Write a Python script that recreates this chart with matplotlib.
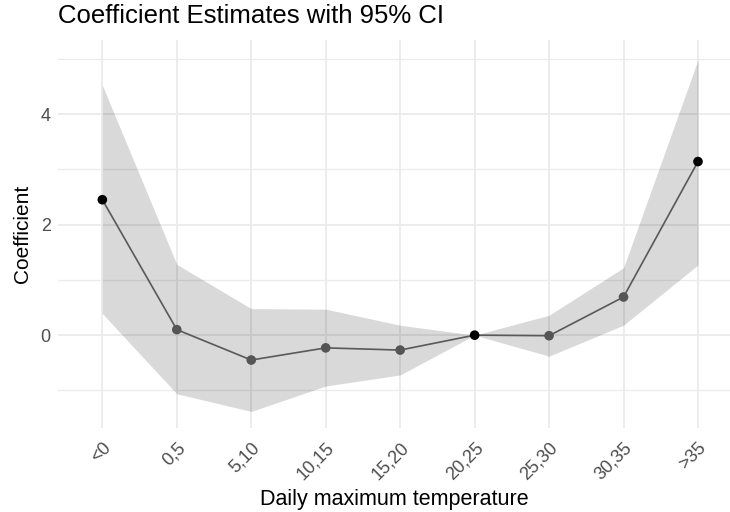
import numpy as np
import matplotlib
matplotlib.use("Agg")
import matplotlib.pyplot as plt

categories = ["<0", "0,5", "5,10", "10,15", "15,20", "20,25", "25,30", "30,35", ">35"]
coef = [2.45, 0.10, -0.45, -0.23, -0.27, 0.0, -0.01, 0.69, 3.14]
ci_low = [0.39, -1.06, -1.38, -0.92, -0.72, 0.0, -0.38, 0.18, 1.27]
ci_high = [4.52, 1.28, 0.48, 0.47, 0.18, 0.0, 0.36, 1.22, 4.98]
point_colors = ["black", "#555555", "#555555", "#555555", "#555555",
                "black", "#555555", "#555555", "black"]

plt.rcParams['font.family'] = ['Liberation Sans', 'DejaVu Sans']

fig = plt.figure(figsize=(7.3, 5.12), dpi=100)
ax = fig.add_axes([0.079, 0.164, 0.921, 0.758])

x = np.arange(len(categories))
ax.fill_between(x, ci_low, ci_high, color="black", alpha=0.15, linewidth=0, zorder=2)
ax.plot(x, coef, color="#595959", linewidth=1.2, zorder=3)
ax.scatter(x, coef, c=point_colors, s=48, zorder=4, linewidths=0)

ax.set_xlim(-0.6, 8.43)
ax.set_ylim(-1.68, 5.34)
ax.set_xticks(x)
ax.set_xticklabels(categories, rotation=45, ha="right", va="top",
                   rotation_mode="anchor", color="#4D4D4D", fontsize=13)
ax.set_yticks([0, 2, 4])
ax.set_yticks([-1, 1, 3, 5], minor=True)
ax.tick_params(axis="y", labelsize=13, labelcolor="#4D4D4D", pad=5)
ax.tick_params(axis="x", pad=8)
ax.tick_params(length=0, which="both")

ax.grid(True, which="major", color="#EBEBEB", linewidth=1.3, zorder=0)
ax.grid(True, which="minor", axis="y", color="#EBEBEB", linewidth=0.9, zorder=0)
ax.set_axisbelow(True)
for s in ax.spines.values():
    s.set_visible(False)

ax.set_xlabel("Daily maximum temperature", fontsize=15.5, labelpad=4)
ax.set_ylabel("Coefficient", fontsize=15, labelpad=6)
fig.text(0.080, 0.956, "Coefficient Estimates with 95% CI", fontsize=18.5,
         ha="left", va="baseline")

fig.savefig("out.png", dpi=100)
